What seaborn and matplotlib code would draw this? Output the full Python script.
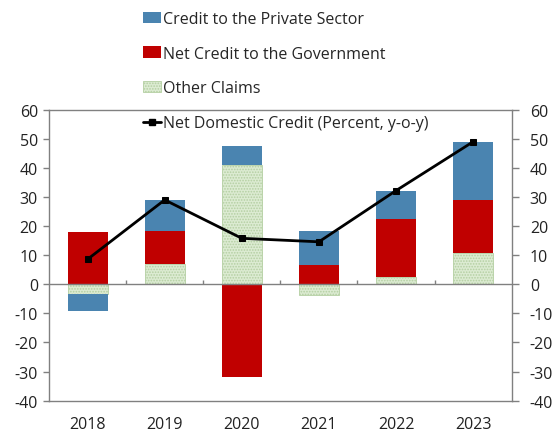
import numpy as np
import pandas as pd
import matplotlib
matplotlib.use("Agg")
import matplotlib.pyplot as plt
import seaborn as sns
from matplotlib.patches import Patch
from matplotlib.lines import Line2D

sns.set_theme(style="white")
plt.rcParams["font.family"] = ["Open Sans", "DejaVu Sans"]
plt.rcParams["font.size"] = 11.5
plt.rcParams["axes.unicode_minus"] = False
plt.rcParams["hatch.linewidth"] = 0.8

# data (percent contributions)
years = ["2018", "2019", "2020", "2021", "2022", "2023"]
private_sector = [-5.9, 10.7, 6.6, 11.8, 9.7, 19.9]
government = [18.0, 11.4, -31.7, 6.5, 20.1, 18.2]
other_claims = [-3.3, 7.0, 40.9, -3.7, 2.4, 10.9]
net_domestic = [8.6, 29.0, 15.8, 14.6, 32.2, 49.0]

labels = ["Credit to the Private Sector", "Net Credit to the Government", "Other Claims"]
colors = {"Credit to the Private Sector": "#4a84b0",
          "Net Credit to the Government": "#c00000",
          "Other Claims": "#dcebd2"}

df = pd.DataFrame({"year": years,
                   "Other Claims": other_claims,
                   "Net Credit to the Government": government,
                   "Credit to the Private Sector": private_sector})

fig = plt.figure(figsize=(5.57, 4.35), dpi=100)
ax = fig.add_axes([0.088, 0.0766, 0.8307, 0.6689])

# stack positives upward and negatives downward: other, government, private
pos_base = np.zeros(len(years))
neg_base = np.zeros(len(years))
for name in ["Other Claims", "Net Credit to the Government", "Credit to the Private Sector"]:
    vals = df[name].to_numpy()
    bottom = np.where(vals >= 0, pos_base, neg_base)
    kw = dict(edgecolor="none", linewidth=0)
    if name == "Other Claims":
        kw = dict(edgecolor="#b4cfa2", linewidth=0.6, hatch="......")
    sns.barplot(x=df["year"], y=vals, bottom=bottom, color=colors[name],
                saturation=1, width=0.52, ax=ax, **kw)
    pos_base += np.where(vals >= 0, vals, 0)
    neg_base += np.where(vals < 0, vals, 0)

sns.lineplot(x=np.arange(len(years)), y=net_domestic, color="black", linewidth=2,
             marker="s", markersize=5, markeredgecolor="black", ax=ax, zorder=5)

ax.axhline(0, color="#808080", linewidth=1, zorder=4)
ax.vlines(np.arange(0.5, len(years) - 1), 0, 1.6, color="#808080", linewidth=1, zorder=4)

ax.set_xlim(-0.5, len(years) - 0.5)
ax.set_ylim(-40, 60)
ax.set_yticks(range(-40, 61, 10))
ax.set_xlabel("")
ax.set_ylabel("")
for s in ax.spines.values():
    s.set_color("#808080")
    s.set_linewidth(1)
ax.tick_params(axis="x", length=0, pad=11, labelsize=11.5, colors="#222222")
ax.tick_params(axis="y", direction="out", length=4, width=1, color="#808080",
               pad=4, labelsize=11.5, labelcolor="#222222")
ax.tick_params(axis="y", left=True)

ax2 = ax.twinx()
ax2.set_ylim(-40, 60)
ax2.set_yticks(range(-40, 61, 10))
ax2.tick_params(axis="y", direction="out", length=5, width=1, color="#808080",
                pad=8, labelsize=11.5, labelcolor="#222222")
for s in ax2.spines.values():
    s.set_visible(False)

handles = [Patch(facecolor=colors[labels[0]], edgecolor="none"),
           Patch(facecolor=colors[labels[1]], edgecolor="none"),
           Patch(facecolor=colors[labels[2]], edgecolor="#b4cfa2", linewidth=0.6, hatch="......"),
           Line2D([], [], color="black", linewidth=2, marker="s", markersize=4)]
fig.legend(handles, labels + ["Net Domestic Credit (Percent, y-o-y)"],
           loc="upper left", bbox_to_anchor=(0.24, 0.995), frameon=False,
           handlelength=1.1, handleheight=0.7, handletextpad=0.15,
           labelspacing=1.18, borderaxespad=0.2, fontsize=11.5)

fig.savefig("out.png", dpi=100)
